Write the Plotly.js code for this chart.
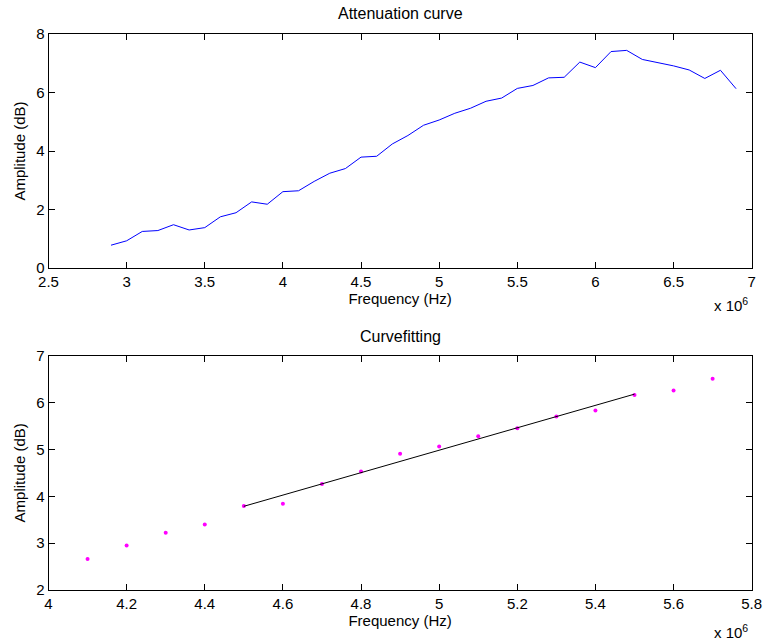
<!DOCTYPE html>
<html>
<head>
<meta charset="utf-8">
<script src="https://cdn.plot.ly/plotly-3.0.1.min.js"></script>
<style>html,body{margin:0;padding:0;background:#fff;}#chart{width:764px;height:640px;}</style>
</head>
<body>
<div id="chart"></div>
<script>
// Top panel: attenuation curve
const attenFreq = [2.9e6,3.0e6,3.1e6,3.2e6,3.3e6,3.4e6,3.5e6,3.6e6,3.7e6,3.8e6,3.9e6,4.0e6,4.1e6,4.2e6,4.3e6,4.4e6,4.5e6,4.6e6,4.7e6,4.8e6,4.9e6,5.0e6,5.1e6,5.2e6,5.3e6,5.4e6,5.5e6,5.6e6,5.7e6,5.8e6,5.9e6,6.0e6,6.1e6,6.2e6,6.3e6,6.4e6,6.5e6,6.6e6,6.7e6,6.8e6,6.9e6];
const attenAmp  = [0.78,0.93,1.25,1.28,1.48,1.30,1.38,1.75,1.89,2.26,2.18,2.61,2.64,2.96,3.24,3.40,3.79,3.82,4.24,4.53,4.88,5.06,5.29,5.46,5.70,5.81,6.14,6.24,6.50,6.52,7.04,6.85,7.40,7.44,7.13,7.02,6.91,6.77,6.48,6.76,6.13];

// Bottom panel: measured points and linear fit
const fitPtsFreq = [4.1e6,4.2e6,4.3e6,4.4e6,4.5e6,4.6e6,4.7e6,4.8e6,4.9e6,5.0e6,5.1e6,5.2e6,5.3e6,5.4e6,5.5e6,5.6e6,5.7e6];
const fitPtsAmp  = [2.66,2.95,3.22,3.40,3.79,3.84,4.26,4.53,4.91,5.06,5.28,5.45,5.70,5.83,6.16,6.26,6.51];
const fitLineFreq = [4.5e6,5.5e6];
const fitLineAmp  = [3.786,6.18];

// Tick labels
const topXTickVals = [2.5e6,3e6,3.5e6,4e6,4.5e6,5e6,5.5e6,6e6,6.5e6,7e6];
const topXTickText = ['2.5','3','3.5','4','4.5','5','5.5','6','6.5','7'];
const topYTickVals = [0,2,4,6,8];
const botXTickVals = [4.0e6,4.2e6,4.4e6,4.6e6,4.8e6,5.0e6,5.2e6,5.4e6,5.6e6,5.8e6];
const botXTickText = ['4','4.2','4.4','4.6','4.8','5','5.2','5.4','5.6','5.8'];
const botYTickVals = [2,3,4,5,6,7];

const FONT = 'Liberation Sans, Arial, Helvetica, sans-serif';
const FS = 15;
const TFS = 16;

const traces = [
  {x: attenFreq, y: attenAmp, type:'scatter', mode:'lines', line:{color:'#0000ff', width:1}, xaxis:'x', yaxis:'y', hoverinfo:'skip'},
  {x: fitPtsFreq, y: fitPtsAmp, type:'scatter', mode:'markers', marker:{color:'#ff00ff', size:4, symbol:'circle'}, xaxis:'x2', yaxis:'y2', hoverinfo:'skip'},
  {x: fitLineFreq, y: fitLineAmp, type:'scatter', mode:'lines', line:{color:'#000000', width:1}, xaxis:'x2', yaxis:'y2', hoverinfo:'skip'}
];

const axBase = {
  showgrid:false, zeroline:false, showline:true, linecolor:'#000', linewidth:1,
  mirror:'ticks', ticks:'inside', ticklen:6, tickcolor:'#000', tickwidth:1,
  tickfont:{family:FONT, size:FS, color:'#000'}
};

const xl = 48.5/764, xr = 751.7/764;
const layout = {
  width:764, height:640,
  margin:{l:0, r:0, t:0, b:0},
  paper_bgcolor:'#fff', plot_bgcolor:'#fff',
  showlegend:false,
  font:{family:FONT, size:FS, color:'#000'},
  xaxis: Object.assign({}, axBase, {
    domain:[xl, xr], anchor:'y', range:[2.5e6, 7e6],
    tickmode:'array', tickvals:topXTickVals, ticktext:topXTickText,
    title:{text:'Frequency (Hz)', font:{family:FONT, size:FS}, standoff:4}
  }),
  yaxis: Object.assign({}, axBase, {
    domain:[1-268/640, 1-34/640], anchor:'x', range:[0, 8],
    tickmode:'array', tickvals:topYTickVals,
    title:{text:'Amplitude (dB)', font:{family:FONT, size:FS}, standoff:6}
  }),
  xaxis2: Object.assign({}, axBase, {
    domain:[xl, xr], anchor:'y2', range:[4.0e6, 5.8e6],
    tickmode:'array', tickvals:botXTickVals, ticktext:botXTickText,
    title:{text:'Frequency (Hz)', font:{family:FONT, size:FS}, standoff:4}
  }),
  yaxis2: Object.assign({}, axBase, {
    domain:[1-590/640, 1-355.7/640], anchor:'x2', range:[2, 7],
    tickmode:'array', tickvals:botYTickVals,
    title:{text:'Amplitude (dB)', font:{family:FONT, size:FS}, standoff:6}
  }),
  annotations:[
    {text:'Attenuation curve', xref:'paper', yref:'paper', x:(xl+xr)/2, y:1-14/640, xanchor:'center', yanchor:'middle', showarrow:false, font:{family:FONT, size:TFS}},
    {text:'Curvefitting', xref:'paper', yref:'paper', x:(xl+xr)/2, y:1-336/640, xanchor:'center', yanchor:'middle', showarrow:false, font:{family:FONT, size:TFS}},
    {text:'x 10<sup>6</sup>', xref:'paper', yref:'paper', x:750/764, y:1-304/640, xanchor:'right', yanchor:'middle', showarrow:false, font:{family:FONT, size:FS}},
    {text:'x 10<sup>6</sup>', xref:'paper', yref:'paper', x:750/764, y:1-631/640, xanchor:'right', yanchor:'middle', showarrow:false, font:{family:FONT, size:FS}}
  ]
};

Plotly.newPlot('chart', traces, layout, {staticPlot:true, displayModeBar:false});
</script>
</body>
</html>
